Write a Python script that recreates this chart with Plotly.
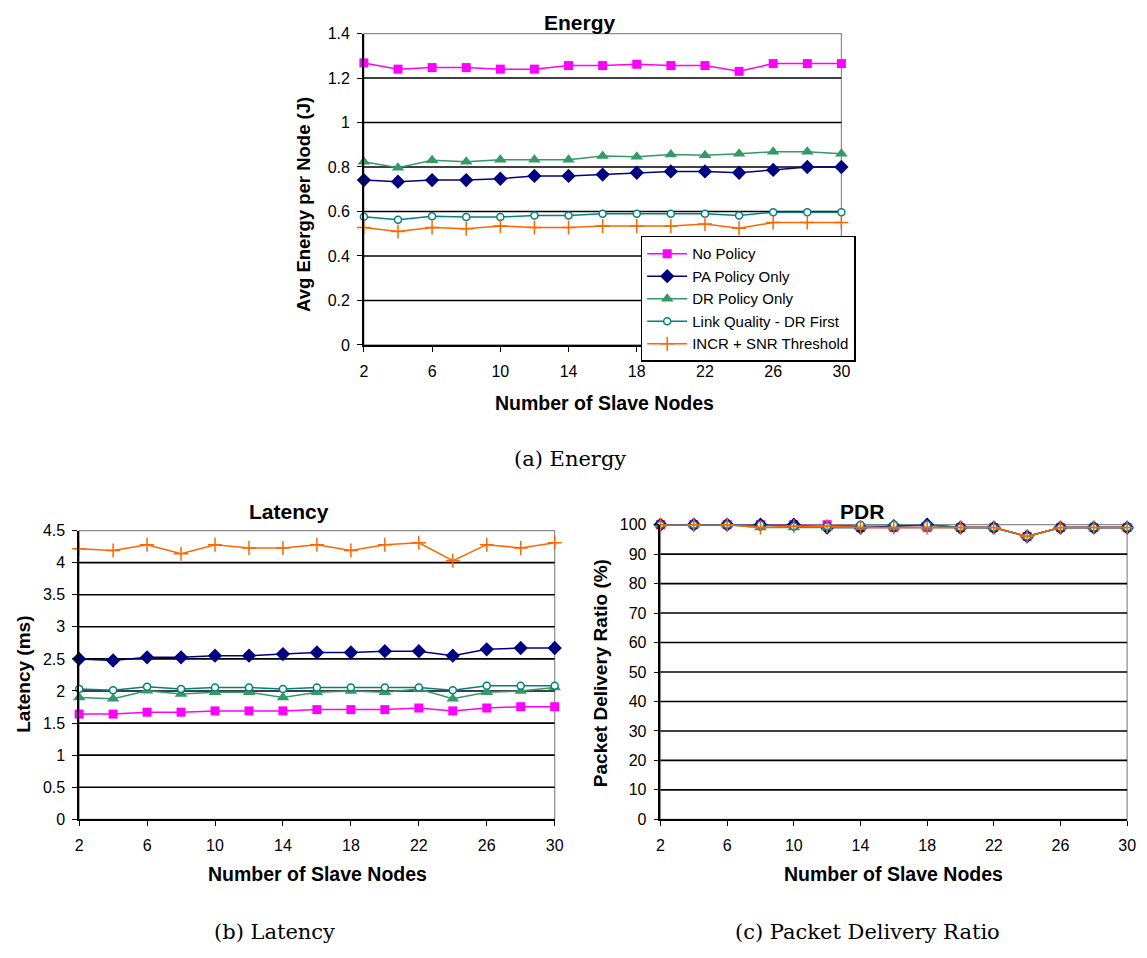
import plotly.graph_objects as go

# ---------------- data ----------------
nodes = [2, 4, 6, 8, 10, 12, 14, 16, 18, 20, 22, 24, 26, 28, 30]
series_names = ["No Policy", "PA Policy Only", "DR Policy Only",
                "Link Quality - DR First", "INCR + SNR Threshold"]

energy_no = [1.268, 1.240, 1.247, 1.247, 1.240, 1.240, 1.256, 1.256, 1.262, 1.256, 1.256, 1.230, 1.265, 1.265, 1.265]
energy_pa = [0.741, 0.734, 0.741, 0.741, 0.747, 0.760, 0.760, 0.766, 0.774, 0.780, 0.780, 0.774, 0.787, 0.800, 0.800]
energy_dr = [0.824, 0.797, 0.830, 0.824, 0.832, 0.832, 0.832, 0.849, 0.846, 0.856, 0.853, 0.860, 0.868, 0.868, 0.859]
energy_lq = [0.576, 0.563, 0.579, 0.575, 0.575, 0.582, 0.582, 0.590, 0.590, 0.590, 0.590, 0.582, 0.597, 0.597, 0.597]
energy_incr = [0.528, 0.510, 0.528, 0.522, 0.535, 0.528, 0.528, 0.535, 0.535, 0.535, 0.544, 0.525, 0.550, 0.550, 0.550]

latency_no = [1.64, 1.64, 1.67, 1.67, 1.69, 1.69, 1.69, 1.71, 1.71, 1.71, 1.735, 1.69, 1.735, 1.755, 1.755]
latency_pa = [2.50, 2.475, 2.525, 2.525, 2.55, 2.55, 2.575, 2.60, 2.60, 2.62, 2.62, 2.55, 2.65, 2.67, 2.67]
latency_dr = [1.90, 1.88, 2.005, 1.955, 1.98, 1.98, 1.90, 1.98, 2.00, 1.98, 2.03, 1.88, 1.98, 2.00, 2.055]
latency_lq = [2.03, 2.01, 2.065, 2.03, 2.055, 2.055, 2.03, 2.055, 2.055, 2.055, 2.055, 2.01, 2.08, 2.08, 2.08]
latency_incr = [4.215, 4.19, 4.28, 4.14, 4.28, 4.23, 4.23, 4.28, 4.19, 4.28, 4.31, 4.03, 4.28, 4.23, 4.31]

pdr_no = [100, 100, 100, 100, 100, 100, 99, 99, 99, 99, 99, 96, 99, 99, 99]
pdr_pa = [100, 100, 100, 100, 100, 99, 99, 99.5, 100, 99, 99, 96, 99, 99, 99]
pdr_dr = [100, 100, 100, 99, 99, 99, 99, 99, 99, 99, 99, 96, 99, 99, 99]
pdr_lq = [100, 100, 100, 100, 99.5, 99.5, 100, 100, 100, 99, 99, 96, 99, 99, 99]
pdr_incr = [100, 100, 100, 99, 99.5, 99.5, 99, 99, 99, 99, 99, 96, 99, 99, 99]

energy_yticks = [0, 0.2, 0.4, 0.6, 0.8, 1.0, 1.2, 1.4]
latency_yticks = [0, 0.5, 1, 1.5, 2, 2.5, 3, 3.5, 4, 4.5]
pdr_yticks = [0, 10, 20, 30, 40, 50, 60, 70, 80, 90, 100]
x_ticks = [2, 6, 10, 14, 18, 22, 26, 30]

# ---------------- styles ----------------
colors = ["#FF00FF", "#000080", "#339966", "#008080", "#FF6600"]
markers = [
    dict(symbol="square", size=9),
    dict(symbol="diamond", size=11),
    dict(symbol="triangle-up", size=11),
    dict(symbol="circle", size=7),
    dict(symbol="cross-thin", size=10),
]

SANS = "Liberation Sans, Arial, sans-serif"
SERIF = "DejaVu Serif, serif"
W, H = 1147, 958

fig = go.Figure()

panels = [
    dict(xa="x", ya="y", data=[energy_no, energy_pa, energy_dr, energy_lq, energy_incr],
         yticks=energy_yticks, xpx=(364, 847), ypx=(26, 343), legend=True),
    dict(xa="x2", ya="y2", data=[latency_no, latency_pa, latency_dr, latency_lq, latency_incr],
         yticks=latency_yticks, xpx=(76, 557), ypx=(532, 826), legend=False),
    dict(xa="x3", ya="y3", data=[pdr_no, pdr_pa, pdr_dr, pdr_lq, pdr_incr],
         yticks=pdr_yticks, xpx=(664, 1136), ypx=(526, 826), legend=False),
]

shapes = []
for p in panels:
    for i, (name, vals) in enumerate(zip(series_names, p["data"])):
        c = colors[i]
        mk = dict(markers[i])
        if i == 3:
            mk.update(color="white", line=dict(color=c, width=1.5))
        elif i == 4:
            mk.update(color=c, line=dict(color=c, width=1.5))
        else:
            mk.update(color=c, line=dict(color=c, width=0))
        fig.add_trace(go.Scatter(
            x=nodes, y=vals, name=name, mode="lines+markers",
            line=dict(color=c, width=1.5), marker=mk,
            xaxis=p["xa"], yaxis=p["ya"], cliponaxis=False,
            showlegend=p["legend"], legendgroup=name,
        ))
    xref = p["xa"]
    yref = p["ya"]
    # gray plot-area border
    shapes.append(dict(type="rect", xref=xref + " domain", yref=yref + " domain",
                       x0=0, x1=1, y0=0, y1=1, layer="below",
                       line=dict(color="#8C8C8C", width=1.2), fillcolor="white"))
    # black gridlines (not at the top border)
    for v in p["yticks"][1:-1]:
        shapes.append(dict(type="line", xref=xref + " domain", yref=yref,
                           x0=0, x1=1, y0=v, y1=v, layer="below",
                           line=dict(color="black", width=1.6)))


def dom_x(px):
    return [px[0] / W, px[1] / W]


def dom_y(py):
    return [1 - py[1] / H, 1 - py[0] / H]


axis_common = dict(showgrid=False, zeroline=False, showline=True, linecolor="black",
                   linewidth=1.5, ticks="outside", ticklen=5, tickwidth=1.2,
                   tickcolor="black", tickfont=dict(family=SANS, size=16, color="black"))

layout_axes = {}
for k, p in enumerate(panels):
    sx = "" if k == 0 else str(k + 1)
    top = p["yticks"][-1]
    layout_axes["xaxis" + sx] = dict(
        domain=dom_x(p["xpx"]), range=[2, 30], tickvals=x_ticks,
        anchor=p["ya"], ticklabelstandoff=6, **axis_common)
    layout_axes["yaxis" + sx] = dict(
        domain=dom_y(p["ypx"]), range=[0, top], tickvals=p["yticks"],
        anchor=p["xa"], ticklabelstandoff=4, **axis_common)

ann = []


def text(x, y, s, size, bold=True, angle=0, family=SANS):
    ann.append(dict(xref="paper", yref="paper", x=x / W, y=1 - y / H,
                    text=("<b>%s</b>" % s) if bold else s, showarrow=False,
                    textangle=angle, xanchor="center", yanchor="middle",
                    font=dict(family=family, size=size, color="black")))


# titles
text(583, 15, "Energy", 21)
text(288, 513, "Latency", 21)
text(868, 513, "PDR", 21)
# x axis titles
text(607, 402, "Number of Slave Nodes", 19.5)
text(317, 882, "Number of Slave Nodes", 19.5)
text(900, 882, "Number of Slave Nodes", 19.5)
# y axis titles
text(303, 200, "Avg Energy per Node (J)", 18.5, angle=-90)
text(20, 678, "Latency (ms)", 19, angle=-90)
text(604, 677, "Packet Delivery Ratio (%)", 19, angle=-90)
# captions
text(572, 459, "(a) Energy", 21, bold=False, family=SERIF)
text(274, 941, "(b) Latency", 21, bold=False, family=SERIF)
text(873, 941, "(c) Packet Delivery Ratio", 21, bold=False, family=SERIF)

fig.update_layout(
    width=W, height=H, margin=dict(l=0, r=0, t=0, b=0),
    paper_bgcolor="white", plot_bgcolor="rgba(0,0,0,0)",
    shapes=shapes, annotations=ann,
    legend=dict(x=644 / W, y=1 - 232 / H, xanchor="left", yanchor="top",
                bgcolor="white", bordercolor="black", borderwidth=1.5,
                font=dict(family=SANS, size=15, color="black"),
                itemwidth=40, tracegroupgap=4, traceorder="normal"),
    **layout_axes,
)

fig.write_html("out.html")
